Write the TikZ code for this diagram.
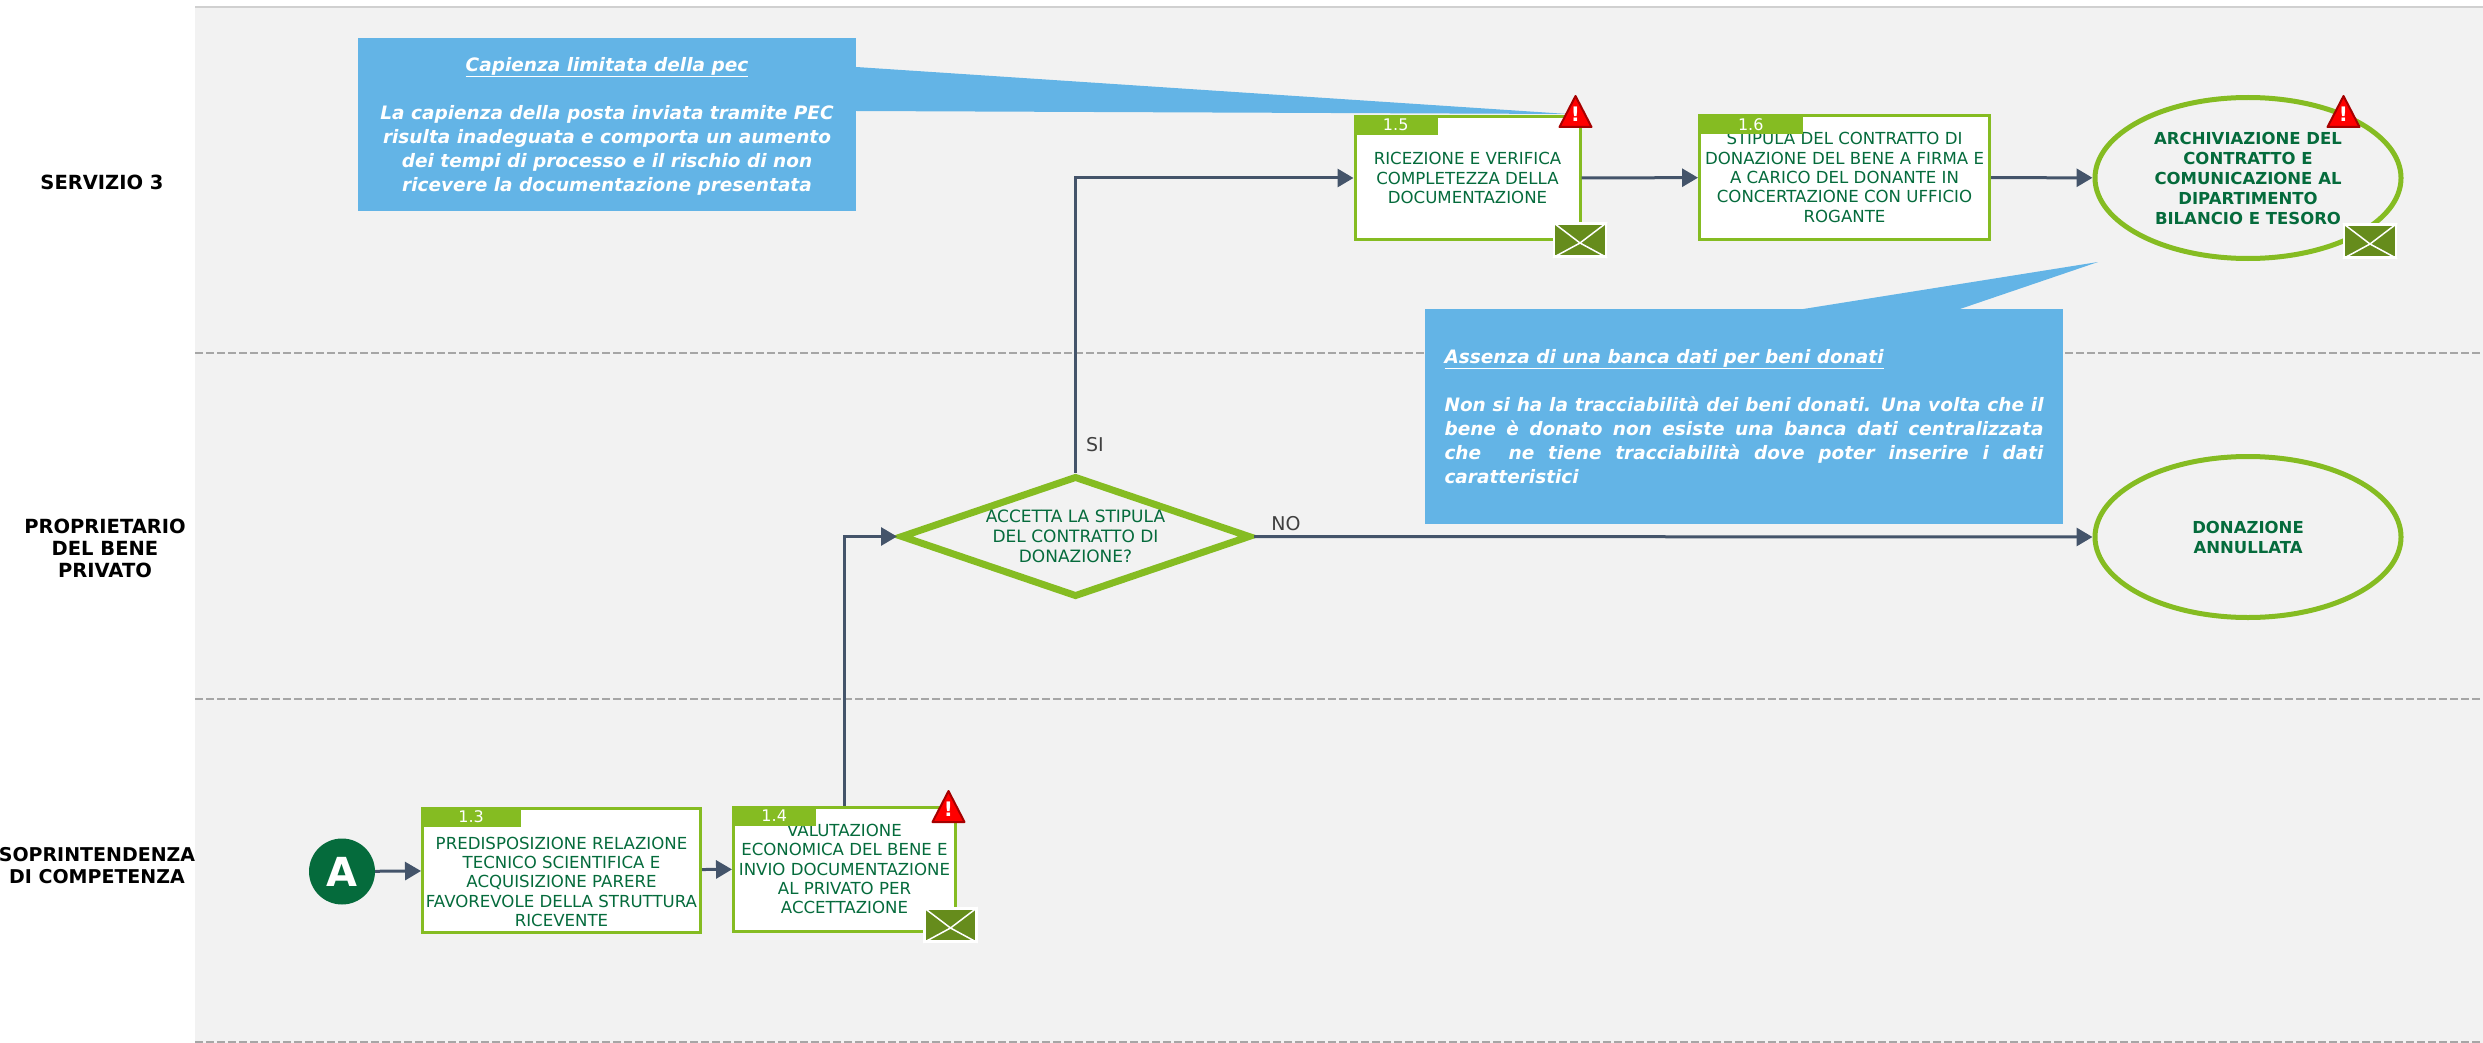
\documentclass[tikz,border=0pt]{standalone}
\usepackage{fontspec}
\setmainfont{DejaVu Sans}
\usetikzlibrary{arrows.meta,shapes.geometric}
\definecolor{lanegray}{HTML}{F2F2F2}
\definecolor{dashgray}{HTML}{A6A6A6}
\definecolor{topgray}{HTML}{D0D0D0}
\definecolor{boxgreen}{HTML}{85BC22}
\definecolor{textgreen}{HTML}{056B3C}
\definecolor{flowblue}{HTML}{44546A}
\definecolor{noteblue}{HTML}{63B4E6}
\definecolor{mailgreen}{HTML}{668C1C}
\tikzset{
  flow/.style={line width=3pt,color=flowblue,-{Triangle[length=16pt,width=18pt]}},
  lanedash/.style={line width=2.5pt,color=dashgray,dash pattern=on 8pt off 3pt},
  lanelabel/.style={font=\fontsize{19.5}{22}\selectfont\bfseries,align=center,text=black},
  stepbox/.style={draw=boxgreen,fill=white,line width=3pt,align=center,text=textgreen,inner sep=0pt,
    font=\fontsize{16.6}{19.4}\selectfont},
  tabnum/.style={fill=boxgreen,text=white,anchor=north west,inner sep=0pt,minimum height=20pt,
    font=\fontsize{16}{16}\selectfont},
  endoval/.style={ellipse,draw=boxgreen,line width=5pt,align=center,text=textgreen,inner sep=0pt,
    minimum width=306pt,minimum height=161pt,font=\fontsize{16.5}{20}\selectfont\bfseries},
  choice/.style={diamond,draw=boxgreen,line width=7pt,align=center,text=textgreen,inner sep=0pt,aspect=2.9,
    minimum width=350pt,minimum height=121pt,font=\fontsize{17}{20}\selectfont},
  note/.style={fill=noteblue,text=white,inner sep=0pt,font=\fontsize{18.5}{24}\selectfont\bfseries\itshape},
  answer/.style={text=black!75,font=\fontsize{19}{20}\selectfont},
  mailbox/.style={draw=white,fill=mailgreen,line width=2.5pt,minimum width=52pt,minimum height=33pt,inner sep=0pt},
  warnmark/.style={text=white,inner sep=0pt,font=\fontsize{20}{20}\selectfont\bfseries}
}
\newcommand{\mailicon}[3]{
  \node[mailbox] (#1) at (#2,#3) {};
  \coordinate (#1c) at (#2,#3+3);
  \draw[white,line width=1.5pt] (#1.north west) -- (#1c) -- (#1.north east);
  \draw[white,line width=1.5pt] (#1.south west) -- (#1c) -- (#1.south east);
}
\newcommand{\warnicon}[3]{
  \draw[fill=red,draw=red!65!black,line width=2pt,line join=round] (#2,#3+1) -- ++(16,31) -- ++(-32,0) -- cycle;
  \node[warnmark] (#1) at (#2,#3+19) {!};
}
\begin{document}
\begin{tikzpicture}[x=1pt,y=-1pt]
\useasboundingbox (0,0) rectangle (2483,1043);
\fill[lanegray] (195,7) rectangle (2483,1043);
\draw[line width=2pt,color=topgray] (195,7) -- (2483,7);
\draw[lanedash] (195,353) -- (2483,353);
\draw[lanedash] (195,699) -- (2483,699);
\draw[lanedash] (195,1042) -- (2483,1042);

\node[lanelabel] (lane1) at (102,182) {SERVIZIO 3};
\node[lanelabel] (lane2) at (105,548) {PROPRIETARIO\\DEL BENE\\PRIVATO};
\node[lanelabel,font=\fontsize{19}{22}\selectfont\bfseries] (lane3) at (97,866) {SOPRINTENDENZA\\DI COMPETENZA};

% callouts
\node[note,minimum width=498pt,minimum height=173pt,align=center] (note1) at (607,124.5)
  {\rule{0pt}{17pt}\underline{Capienza limitata della pec}\\[24pt]La capienza della posta inviata tramite PEC\\risulta inadeguata e comporta un aumento\\dei tempi di processo e il rischio di non\\ricevere la documentazione presentata};
\coordinate (tip1) at (1568,114);
\fill[noteblue] (note1.north east |- 0,67) -- (tip1) -- (note1.north east |- 0,111) -- cycle;

\node[note,minimum width=638pt,minimum height=215pt,text width=599pt,align=justify] (note2) at (1744,416.5)
  {\underline{Assenza di una banca dati per beni donati}\par\vspace{24pt}Non si ha la tracciabilità dei beni donati. Una volta che il\linebreak bene è donato non esiste una banca dati centralizzata\linebreak che\ \ ne tiene tracciabilità dove poter inserire i dati\linebreak caratteristici};
\coordinate (tip2) at (2098,262);
\fill[noteblue] (1797,310) -- (tip2) -- (1957,310) -- cycle;

% nodes
\node[circle,fill=textgreen,text=white,minimum width=66pt,inner sep=0pt,font=\fontsize{40}{40}\selectfont\bfseries] (start) at (342,871.5) {A};

\node[stepbox,minimum width=278pt,minimum height=124pt] (box13) at (561.5,870)
  {\rule{0pt}{36pt}PREDISPOSIZIONE RELAZIONE\\TECNICO SCIENTIFICA E\\ACQUISIZIONE PARERE\\FAVOREVOLE DELLA STRUTTURA\\RICEVENTE};
\node[tabnum,minimum width=100pt] (tab13) at (box13.north west) {1.3};

\node[stepbox,minimum width=222pt,minimum height=124pt] (box14) at (844.5,869)
  {VALUTAZIONE\\ECONOMICA DEL BENE E\\INVIO DOCUMENTAZIONE\\AL PRIVATO PER\\ACCETTAZIONE};
\node[tabnum,minimum width=84pt] (tab14) at (box14.north west) {1.4};

\node[choice] (dec) at (1075.5,536.5) {ACCETTA LA STIPULA\\DEL CONTRATTO DI\\DONAZIONE?};

\node[stepbox,minimum width=225pt,minimum height=123pt] (box15) at (1467.5,178)
  {RICEZIONE E VERIFICA\\COMPLETEZZA DELLA\\DOCUMENTAZIONE};
\node[tabnum,minimum width=84pt] (tab15) at (box15.north west) {1.5};

\node[stepbox,minimum width=290pt,minimum height=124pt] (box16) at (1844.5,177.5)
  {STIPULA DEL CONTRATTO DI\\DONAZIONE DEL BENE A FIRMA E\\A CARICO DEL DONANTE IN\\CONCERTAZIONE CON UFFICIO\\ROGANTE};
\node[tabnum,minimum width=105pt] (tab16) at (box16.north west) {1.6};

\node[endoval] (end1) at (2248,178) {ARCHIVIAZIONE DEL\\CONTRATTO E\\COMUNICAZIONE AL\\DIPARTIMENTO\\BILANCIO E TESORO};
\node[endoval] (end2) at (2248,537) {DONAZIONE\\ANNULLATA};

% connectors
\draw[flow] (start) -- (box13);
\draw[flow] (box13) -- (box14);
\draw[flow] (box14.north) |- (dec.west);
\draw[flow] (dec.north) |- (box15.west);
\draw[flow] (box15) -- (box16);
\draw[flow] (box16) -- (end1);
\draw[flow] (dec.east) -- (end2.west);

\node[answer] (si) at (1095,445) {SI};
\node[answer] (no) at (1286,524) {NO};

% icons
\warnicon{warn14}{948.5}{790}
\warnicon{warn15}{1575.5}{95}
\warnicon{warn1}{2343.5}{95}
\mailicon{mail14}{950.5}{925}
\mailicon{mail15}{1580}{240}
\mailicon{mail1}{2370}{241}
\end{tikzpicture}
\end{document}
